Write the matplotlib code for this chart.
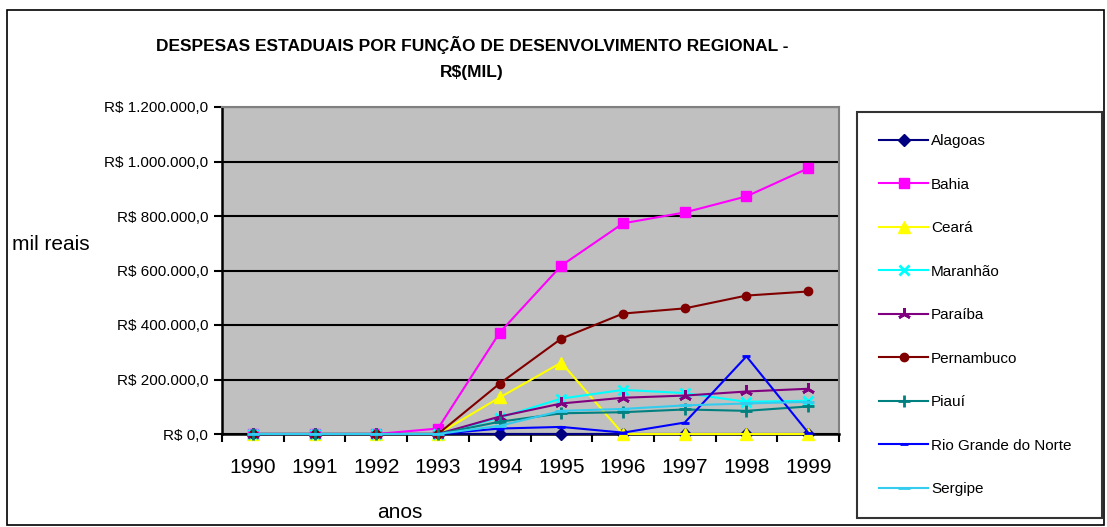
import matplotlib
matplotlib.use("Agg")
import matplotlib.pyplot as plt
from matplotlib.ticker import FuncFormatter, FixedLocator
from matplotlib.patches import Rectangle

# anos e valores (R$ mil)
anos = ['1990', '1991', '1992', '1993', '1994', '1995', '1996', '1997', '1998', '1999']

alagoas = [0, 0, 0, 0, 0, 0, 0, 0, 0, 0]
bahia = [0, 0, 0, 20000, 372000, 618000, 773000, 813000, 872000, 975000]
ceara = [0, 0, 0, 0, 134000, 262000, 0, 0, 0, 0]
maranhao = [0, 0, 0, 0, 60000, 130000, 162000, 150000, 118000, 122000]
paraiba = [0, 0, 0, 0, 64000, 112000, 133000, 141000, 156000, 166000]
pernambuco = [0, 0, 0, 0, 185000, 350000, 442000, 461000, 508000, 523000]
piaui = [0, 0, 0, 0, 45000, 76000, 80000, 90000, 85000, 101000]
rio_grande_norte = [0, 0, 0, 0, 20000, 26000, 5000, 42000, 285000, 5000]
sergipe = [0, 0, 0, 0, 30000, 85000, 92000, 105000, 112000, 118000]

estados = ['Alagoas', 'Bahia', 'Ceará', 'Maranhão', 'Paraíba', 'Pernambuco',
           'Piauí', 'Rio Grande do Norte', 'Sergipe']
series = [alagoas, bahia, ceara, maranhao, paraiba, pernambuco, piaui,
          rio_grande_norte, sergipe]
y_ticks = [0, 200000, 400000, 600000, 800000, 1000000, 1200000]

# estilo de cada série (cor, marcador, tamanho)
estilos = [
    ('#000080', 'D', 6),
    ('#FF00FF', 's', 7),
    ('#FFFF00', '^', 8),
    ('#00FFFF', 'x', 7),
    ('#800080', (3, 2, 0), 9),
    ('#800000', 'o', 6),
    ('#008080', '+', 8),
    ('#0000FF', '_', 6),
    ('#33CCEE', '_', 9),
]

plt.rcParams['font.family'] = ['Liberation Sans Narrow', 'Liberation Sans', 'DejaVu Sans']

W, H = 1107, 527
fig = plt.figure(figsize=(W / 100, H / 100), dpi=100)

# moldura externa do gráfico
fig.patches.append(Rectangle((7 / W, 2 / H), 1097 / W, 515 / H, transform=fig.transFigure,
                             fill=False, edgecolor='black', linewidth=1.2))

ax = fig.add_axes([222 / W, 1 - 434 / H, 617 / W, 327 / H])
ax.set_facecolor('#C0C0C0')

x = list(range(len(anos)))
for nome, valores, (cor, marc, tam) in zip(estados, series, estilos):
    ax.plot(x, valores, color=cor, marker=marc, markersize=tam, linewidth=1.5,
            markeredgewidth=2 if marc in ('x', '+', '_') or isinstance(marc, tuple) else 1,
            markerfacecolor=cor, markeredgecolor=cor, label=nome, clip_on=False, zorder=3)

ax.set_xlim(-0.5, len(anos) - 0.5)
ax.set_ylim(0, 1200000)

ax.yaxis.set_major_locator(FixedLocator(y_ticks))
ax.yaxis.set_major_formatter(FuncFormatter(
    lambda v, p: 'R$ ' + f'{v:,.1f}'.replace(',', '#').replace('.', ',').replace('#', '.')))
ax.grid(axis='y', color='black', linewidth=1.5, zorder=1)
ax.set_axisbelow(True)

ax.set_xticks(x)
ax.set_xticklabels(anos)
ax.set_xticks([i - 0.5 for i in range(len(anos) + 1)], minor=True)
ax.tick_params(axis='x', which='major', length=0, labelsize=15, pad=17)
ax.tick_params(axis='x', which='minor', length=6, width=1.5, direction='out', color='black')
ax.tick_params(axis='y', length=6, width=1.5, direction='out', labelsize=11, pad=4)

for lado in ('left', 'bottom'):
    ax.spines[lado].set_color('black')
    ax.spines[lado].set_linewidth(1.8)
for lado in ('top', 'right'):
    ax.spines[lado].set_color('#808080')
    ax.spines[lado].set_linewidth(1.5)

fig.text(472 / W, 1 - 45 / H, 'DESPESAS ESTADUAIS POR FUNÇÃO DE DESENVOLVIMENTO REGIONAL -',
         ha='center', va='center', fontsize=12.5, fontweight='bold')
fig.text(472 / W, 1 - 72 / H, 'R$(MIL)', ha='center', va='center', fontsize=12.5, fontweight='bold')
fig.text(12 / W, 1 - 245 / H, 'mil reais', ha='left', va='center', fontsize=15)
fig.text(400 / W, 1 - 512 / H, 'anos', ha='center', va='center', fontsize=15)

leg = fig.legend(loc='upper left', bbox_to_anchor=(857 / W, 1 - 518 / H, 245 / W, 406 / H),
                 mode='expand', borderaxespad=0, frameon=True, fancybox=False,
                 edgecolor='black', fontsize=11, labelspacing=1.93, handlelength=3.2,
                 handletextpad=0.2, borderpad=1.45)
leg.get_frame().set_linewidth(1.5)

fig.savefig('out.png', dpi=100)
